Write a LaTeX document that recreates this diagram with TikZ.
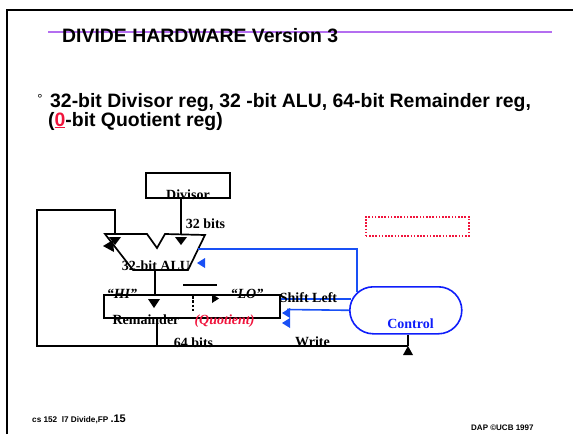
\documentclass[tikz,border=0pt]{standalone}
\usepackage{fontspec}
\setmainfont{Liberation Serif}
\newfontfamily\arial{Liberation Sans}
\definecolor{blueline}{RGB}{25,80,245}
\definecolor{ctrlblue}{RGB}{15,30,250}
\definecolor{qred}{RGB}{240,20,60}
\definecolor{violetline}{RGB}{180,110,240}
\begin{document}
\begin{tikzpicture}[x=1pt,y=-1pt,
  ln/.style={line width=1.7pt,black},
  bl/.style={line width=1.6pt,blueline},
  boxst/.style={draw,line width=1.7pt,inner sep=0pt,anchor=north west},
  lbl/.style={font=\fontsize{14}{14}\selectfont\bfseries,inner sep=0pt,anchor=base},
  sans/.style={inner sep=0pt,anchor=base west},
  tri/.style={fill=black},
  btri/.style={fill=blueline}]
\useasboundingbox (0,0) rectangle (573,434);
% frame
\draw[line width=2pt] (7,434) -- (7,10) -- (573,10);
\draw[violetline,line width=1.5pt] (48,32) -- (552,32);
\node[sans,font=\arial\fontsize{19.4}{19.4}\selectfont\bfseries] (title) at (62,42) {DIVIDE HARDWARE Version 3};
% bullet
\node[inner sep=0pt,font=\arial\fontsize{13}{13}\selectfont] (bul) at (40,99) {°};
\node[sans,font=\arial\fontsize{19.4}{19.4}\selectfont\bfseries] (line1) at (50,107) {32-bit Divisor reg, 32 -bit ALU, 64-bit Remainder reg,};
\node[sans,font=\arial\fontsize{19.4}{19.4}\selectfont\bfseries] (line2) at (48,126) {(\textcolor{qred}{\underline{0}}-bit Quotient reg)};
% footer
\node[sans,font=\arial\fontsize{8.2}{8.2}\selectfont\bfseries] (foot1) at (32,422) {cs 152\ \ l7 Divide,FP};
\node[sans,font=\arial\fontsize{11}{11}\selectfont\bfseries] (foot2) at (foot1.base east) {\,.15};
\node[sans,font=\arial\fontsize{8}{8}\selectfont\bfseries] (foot3) at (471,430) {DAP ©UCB 1997};
% boxes
\node[boxst,minimum width=84pt,minimum height=25pt] (divisor) at (145,172) {};
\node[boxst,minimum width=176pt,minimum height=23pt] (rem) at (103,294) {};
\node[draw=ctrlblue,line width=1.6pt,inner sep=0pt,anchor=north west,rounded corners=23.5pt,minimum width=112pt,minimum height=47pt] (ctrl) at (349,286) {};
\node[draw=qred,line width=1.6pt,dash pattern=on 1.6pt off 1.6pt,inner sep=0pt,anchor=north west,minimum width=103pt,minimum height=19pt] (note) at (365,216) {};
% ALU
\coordinate (a1) at (105,234);
\coordinate (a2) at (147,234);
\coordinate (a3) at (157,248);
\coordinate (a4) at (165,234);
\coordinate (a5) at (205,235);
\coordinate (a6) at (188,270);
\coordinate (a7) at (133,270);
\draw[ln,line join=miter] (a1) -- (a2) -- (a3) -- (a4) -- (a5) -- (a6) -- (a7) -- cycle;
% inputs
\coordinate (dinp) at (181,234);
\draw[ln] (divisor.south -| dinp) -- (dinp);
\fill[tri] (175,237) -- (187,237) -- (181,245) -- cycle;
\coordinate (linp) at (115,234);
\coordinate (wend) at (408,346);
\draw[ln] (linp) -- (115,210) -- (37,210) -- (37,346) -- (wend);
\fill[tri] (109,237) -- (121,237) -- (115,245) -- cycle;
\fill[tri] (103,246) -- (113,240) -- (114,252) -- cycle;
% ALU out
\coordinate (aout) at (155,270);
\draw[ln] (aout) -- (aout |- rem.north);
\coordinate (rout) at (157,346);
\draw[ln] (rem.south -| rout) -- (rout);
% inside remainder
\fill[tri] (148,299) -- (160,299) -- (154,308) -- cycle;
\draw[line width=1.5pt,dash pattern=on 2.5pt off 1.8pt] (193,296) -- (193,313);
\fill[tri] (212,294) -- (212,303) -- (219,298.5) -- cycle;
\coordinate (hl1) at (183,285);
\coordinate (hl2) at (217,285);
\draw[ln] (hl1) -- (hl2);
% write
\draw[ln] (ctrl.south -| wend) -- (wend);
\fill[tri] (408,346) -- (403,355) -- (413,355) -- cycle;
% blue control lines
\coordinate (aluR) at (198,249);
\coordinate (cbend) at (357,249);
\coordinate (ctop) at (357,292);
\draw[bl] (aluR) -- (cbend) -- (ctop);
\fill[btri] (197,263) -- (205,258) -- (205,268) -- cycle;
\coordinate (sl) at (351,299);
\draw[bl] (sl) -- (sl -| rem.east);
\coordinate (q2) at (287,309.5);
\draw[bl] (ctrl.west) -- (q2);
\fill[btri] (282,313) -- (290,308) -- (290,318) -- cycle;
\fill[btri] (282,323) -- (290,318) -- (290,328) -- cycle;
% labels
\node[lbl] (tdiv) at (188,199) {Divisor};
\node[lbl] (t32) at (205.5,228) {32 bits};
\node[lbl] (talu) at (156,270) {32-bit ALU};
\node[lbl,font=\fontsize{14}{14}\selectfont\bfseries\itshape] (thi) at (122,298) {“HI”};
\node[lbl,font=\fontsize{14}{14}\selectfont\bfseries\itshape] (tlo) at (247,298) {“LO”};
\node[lbl] (trem) at (146,324) {Remainder};
\node[lbl,font=\fontsize{14}{14}\selectfont\bfseries\itshape,text=qred] (tquo) at (224.5,324) {(Quotient)};
\node[lbl] (tsl) at (308.5,302) {Shift Left};
\node[lbl] (t64) at (193.5,347) {64 bits};
\node[lbl] (twr) at (312.5,346) {Write};
\node[lbl,text=ctrlblue] (tctl) at (410.5,328) {Control};
\end{tikzpicture}
\end{document}
